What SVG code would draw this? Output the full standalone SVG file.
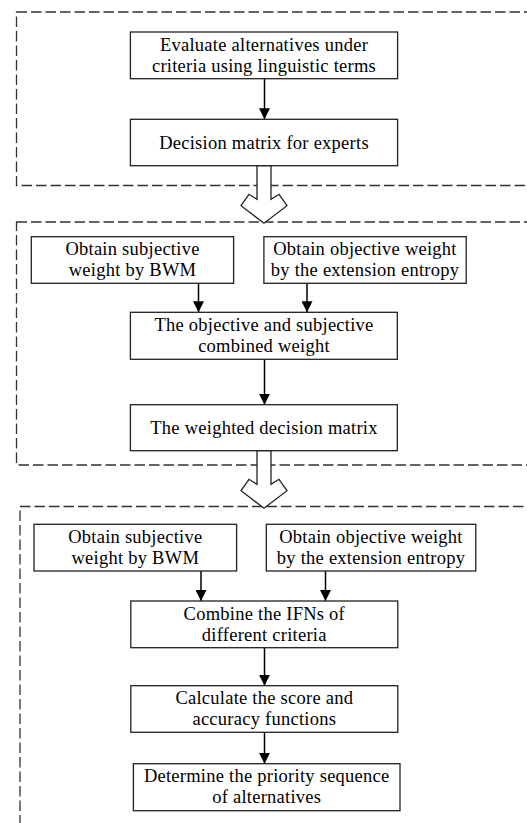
<svg xmlns="http://www.w3.org/2000/svg" width="527" height="823" viewBox="0 0 527 823">
<style>
.frame{fill:none;stroke:#333;stroke-width:1.3;stroke-dasharray:10.5,4}
.box{fill:#fff;stroke:#222;stroke-width:1.3}
.t{font-family:'Liberation Serif','Times New Roman','DejaVu Serif',serif;font-size:18.5px;letter-spacing:0.25px;fill:#000;text-anchor:middle}
.ln{stroke:#000;stroke-width:1.5;fill:none;marker-end:url(#ah)}
.big{fill:#fff;stroke:#222;stroke-width:1.3;stroke-linejoin:miter}
</style>
<defs>
<marker id="ah" markerUnits="userSpaceOnUse" markerWidth="11" markerHeight="11" viewBox="0 0 10 10" refX="10" refY="5" orient="auto">
<path d="M0,0 L10,5 L0,10 Z" fill="#000"/>
</marker>
</defs>
<rect class="frame" x="16.5" y="12" width="530" height="173.5"/>
<rect class="frame" x="16.5" y="222" width="530" height="243"/>
<rect class="frame" x="20" y="506.5" width="530" height="340"/>
<g id="connectors">
<line class="ln" x1="264.5" y1="78.7" x2="264.5" y2="119.3"/>
<line class="ln" x1="198.5" y1="283.3" x2="198.5" y2="312.3"/>
<line class="ln" x1="307" y1="283.3" x2="307" y2="312.3"/>
<line class="ln" x1="264.5" y1="359.3" x2="264.5" y2="404.7"/>
<line class="ln" x1="201" y1="571" x2="201" y2="601"/>
<line class="ln" x1="325.5" y1="571" x2="325.5" y2="601"/>
<line class="ln" x1="264.5" y1="647.7" x2="264.5" y2="685.7"/>
<line class="ln" x1="264.5" y1="732.3" x2="264.5" y2="763.7"/>
<polygon class="big" points="257,165.7 257,199.3 249,194.3 241,205.7 264,223.3 287,205.7 279,194.3 271,199.3 271,165.7"/>
<polygon class="big" points="257,450.7 257,484.3 249,479.3 241,490.7 264,508.3 287,490.7 279,479.3 271,484.3 271,450.7"/>
</g>
<g id="n1"><rect class="box" x="130.4" y="32" width="267.2" height="46.7"/>
<text class="t" x="264" y="50.5">Evaluate alternatives under</text>
<text class="t" x="264" y="71.5">criteria using linguistic terms</text></g>
<g id="n2"><rect class="box" x="130.4" y="119.3" width="267.2" height="46.4"/>
<text class="t" x="264" y="148.5">Decision matrix for experts</text></g>
<g id="n3"><rect class="box" x="31.3" y="236.7" width="202.3" height="46.6"/>
<text class="t" x="132.5" y="255.2">Obtain subjective</text>
<text class="t" x="132.5" y="276.2">weight by BWM</text></g>
<g id="n4"><rect class="box" x="263.9" y="236.7" width="202.3" height="46.6"/>
<text class="t" x="365" y="255.2">Obtain objective weight</text>
<text class="t" x="365" y="276.2">by the extension entropy</text></g>
<g id="n5"><rect class="box" x="130.4" y="312.3" width="266.9" height="47"/>
<text class="t" x="264" y="331">The objective and subjective</text>
<text class="t" x="264" y="352">combined weight</text></g>
<g id="n6"><rect class="box" x="130.4" y="404.7" width="266.9" height="46"/>
<text class="t" x="264" y="433.7">The weighted decision matrix</text></g>
<g id="n7"><rect class="box" x="34" y="524.3" width="202.6" height="46.7"/>
<text class="t" x="135.3" y="543">Obtain subjective</text>
<text class="t" x="135.3" y="564">weight by BWM</text></g>
<g id="n8"><rect class="box" x="266.3" y="524.3" width="209.5" height="46.7"/>
<text class="t" x="371" y="543">Obtain objective weight</text>
<text class="t" x="371" y="564">by the extension entropy</text></g>
<g id="n9"><rect class="box" x="130.8" y="601" width="267" height="46.7"/>
<text class="t" x="264.3" y="619.6">Combine the IFNs of</text>
<text class="t" x="264.3" y="640.6">different criteria</text></g>
<g id="n10"><rect class="box" x="130.8" y="685.7" width="267" height="46.6"/>
<text class="t" x="264.3" y="704.2">Calculate the score and</text>
<text class="t" x="264.3" y="725.2">accuracy functions</text></g>
<g id="n11"><rect class="box" x="133.4" y="763.7" width="266.6" height="47"/>
<text class="t" x="266.7" y="782.4">Determine the priority sequence</text>
<text class="t" x="266.7" y="803.4">of alternatives</text></g>
</svg>
